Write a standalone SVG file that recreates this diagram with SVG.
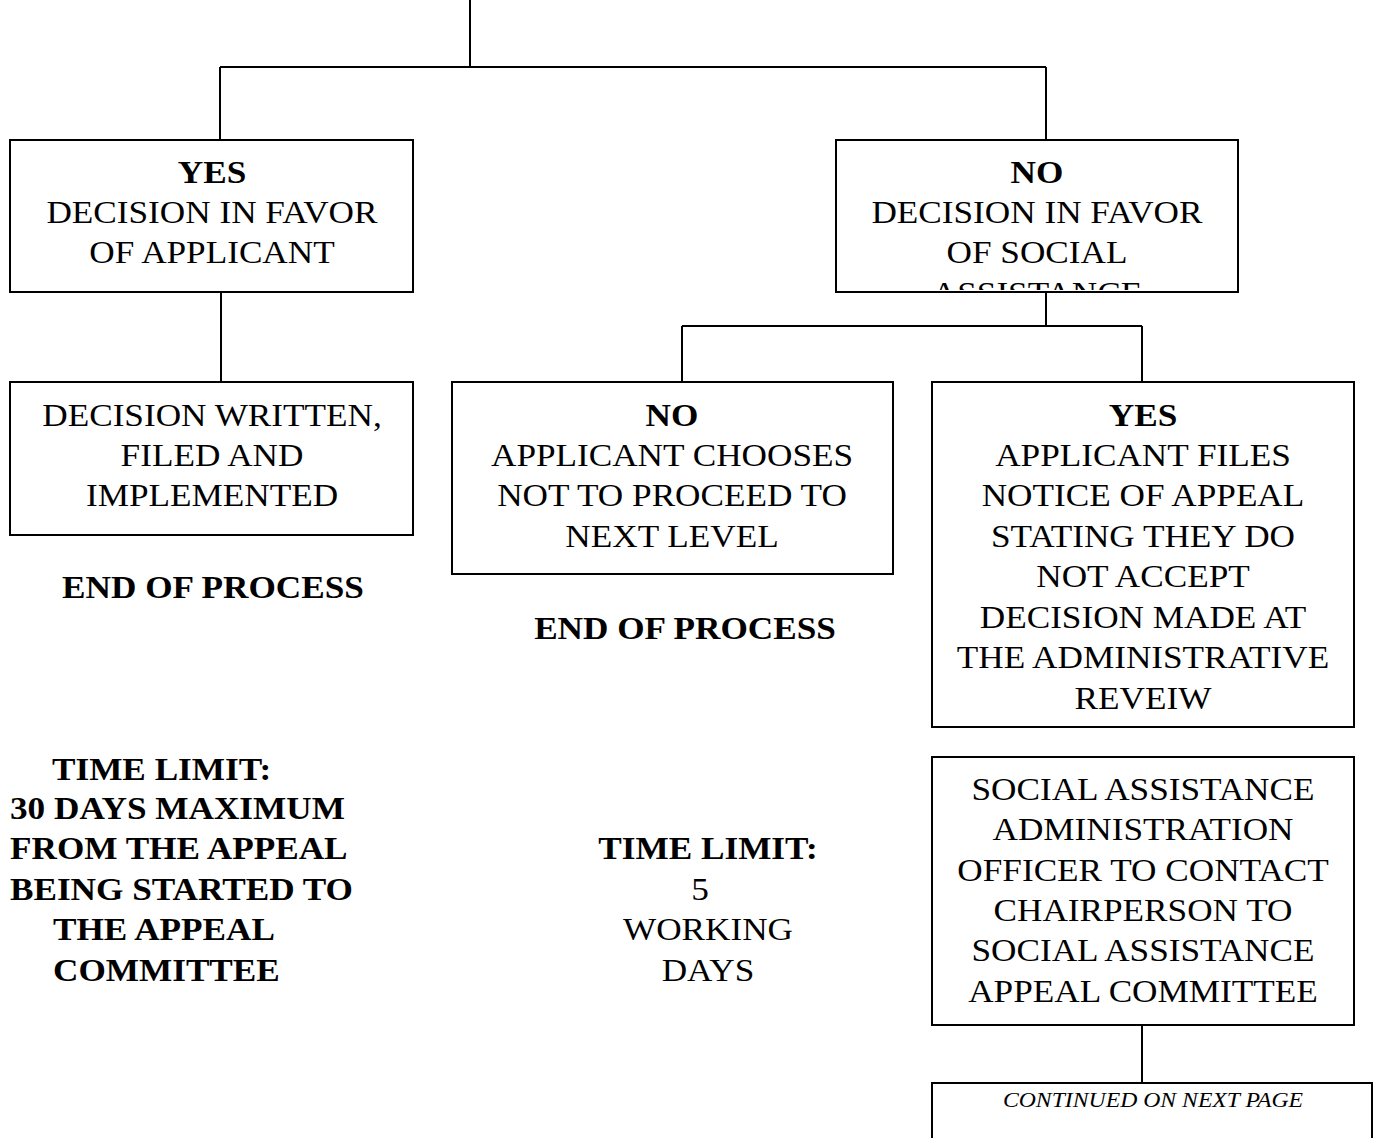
<svg xmlns="http://www.w3.org/2000/svg" width="1375" height="1138" viewBox="0 0 1375 1138">
  <style>
    .box { fill: #fff; stroke: #000; stroke-width: 2; }
    .wire { fill: none; stroke: #000; stroke-width: 2; }
    text { font-family: "Liberation Serif", "Times New Roman", serif; font-size: 32px; fill: #000;
           transform-box: fill-box; transform-origin: center; transform: scaleX(1.1); }
    .c { text-anchor: middle; }
    .l { transform-origin: left center; }
    .b { font-weight: bold; }
    .note { font-size: 21px; font-style: italic; transform: scaleX(1.13); }
  </style>
  <defs>
    <clipPath id="noClip">
      <rect x="837" y="141" width="400" height="149"/>
    </clipPath>
  </defs>
  <rect width="1375" height="1138" fill="#fff"/>

  <g id="connectors">
    <path class="wire" d="M470 0 V67 M220 67 H1046 M220 67 V140 M1046 67 V140"/>
    <path class="wire" d="M221 292 V382"/>
    <path class="wire" d="M1046 292 V326 M682 326 H1142 M682 326 V382 M1142 326 V382"/>
    <path class="wire" d="M1142 1025 V1083"/>
  </g>

  <g id="yes-decision">
    <rect class="box" x="10" y="140" width="403" height="152"/>
    <text class="c b" x="212" y="183">YES</text>
    <text class="c" x="212" y="223">DECISION IN FAVOR</text>
    <text class="c" x="212" y="263">OF APPLICANT</text>
  </g>

  <g id="no-decision">
    <rect class="box" x="836" y="140" width="402" height="152"/>
    <g clip-path="url(#noClip)">
      <text class="c b" x="1037" y="183">NO</text>
      <text class="c" x="1037" y="223">DECISION IN FAVOR</text>
      <text class="c" x="1037" y="263">OF SOCIAL</text>
      <text class="c" x="1037" y="304">ASSISTANCE</text>
    </g>
  </g>

  <g id="decision-written">
    <rect class="box" x="10" y="382" width="403" height="153"/>
    <text class="c" x="212" y="426">DECISION WRITTEN,</text>
    <text class="c" x="212" y="466">FILED AND</text>
    <text class="c" x="212" y="506">IMPLEMENTED</text>
  </g>

  <g id="end-1">
    <text class="c b" x="213" y="598">END OF PROCESS</text>
  </g>

  <g id="no-proceed">
    <rect class="box" x="452" y="382" width="441" height="192"/>
    <text class="c b" x="672" y="426">NO</text>
    <text class="c" x="672" y="466">APPLICANT CHOOSES</text>
    <text class="c" x="672" y="506">NOT TO PROCEED TO</text>
    <text class="c" x="672" y="547">NEXT LEVEL</text>
  </g>

  <g id="end-2">
    <text class="c b" x="685" y="639">END OF PROCESS</text>
  </g>

  <g id="yes-appeal">
    <rect class="box" x="932" y="382" width="422" height="345"/>
    <text class="c b" x="1143" y="426">YES</text>
    <text class="c" x="1143" y="466">APPLICANT FILES</text>
    <text class="c" x="1143" y="506">NOTICE OF APPEAL</text>
    <text class="c" x="1143" y="547">STATING THEY DO</text>
    <text class="c" x="1143" y="587">NOT ACCEPT</text>
    <text class="c" x="1143" y="628">DECISION MADE AT</text>
    <text class="c" x="1143" y="668">THE ADMINISTRATIVE</text>
    <text class="c" x="1143" y="709">REVEIW</text>
  </g>

  <g id="time-limit-30">
    <text class="b l" x="52" y="780">TIME LIMIT:</text>
    <text class="b l" x="10" y="819">30 DAYS MAXIMUM</text>
    <text class="b l" x="10" y="859">FROM THE APPEAL</text>
    <text class="b l" x="10" y="900">BEING STARTED TO</text>
    <text class="b l" x="53" y="940">THE APPEAL</text>
    <text class="b l" x="53" y="981">COMMITTEE</text>
  </g>

  <g id="time-limit-5">
    <text class="c b" x="708" y="859">TIME LIMIT:</text>
    <text class="c" x="700" y="900">5</text>
    <text class="c" x="708" y="940">WORKING</text>
    <text class="c" x="708" y="981">DAYS</text>
  </g>

  <g id="contact-chair">
    <rect class="box" x="932" y="757" width="422" height="268"/>
    <text class="c" x="1143" y="800">SOCIAL ASSISTANCE</text>
    <text class="c" x="1143" y="840">ADMINISTRATION</text>
    <text class="c" x="1143" y="881">OFFICER TO CONTACT</text>
    <text class="c" x="1143" y="921">CHAIRPERSON TO</text>
    <text class="c" x="1143" y="961">SOCIAL ASSISTANCE</text>
    <text class="c" x="1143" y="1002">APPEAL COMMITTEE</text>
  </g>

  <g id="continued">
    <rect class="box" x="932" y="1083" width="440" height="80"/>
    <text class="c note" x="1153" y="1107">CONTINUED ON NEXT PAGE</text>
  </g>
</svg>
